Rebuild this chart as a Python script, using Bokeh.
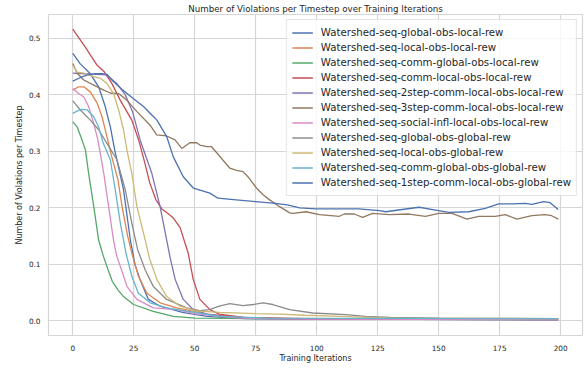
from bokeh.plotting import figure
from bokeh.models import FixedTicker, PrintfTickFormatter, Range1d, Legend, LegendItem
from bokeh.embed import file_html
from bokeh.resources import INLINE

labels = [
    "Watershed-seq-global-obs-local-rew",
    "Watershed-seq-local-obs-local-rew",
    "Watershed-seq-comm-global-obs-local-rew",
    "Watershed-seq-comm-local-obs-local-rew",
    "Watershed-seq-2step-comm-local-obs-local-rew",
    "Watershed-seq-3step-comm-local-obs-local-rew",
    "Watershed-seq-social-infl-local-obs-local-rew",
    "Watershed-seq-global-obs-global-rew",
    "Watershed-seq-local-obs-global-rew",
    "Watershed-seq-comm-global-obs-global-rew",
    "Watershed-seq-1step-comm-local-obs-global-rew",
]
colors = ["#4C72B0", "#DD8452", "#55A868", "#C44E52", "#8172B3", "#937860",
          "#DA8BC3", "#8C8C8C", "#CCB974", "#64B5CD", "#4C72B0"]

x_global_local = [0, 3, 7, 10.6, 13.3, 15.4, 17.2, 20.8, 23.6, 25.5, 27.6, 31, 35.8, 45, 55, 70, 100, 199]
y_global_local = [0.473, 0.455, 0.438, 0.414, 0.379, 0.343, 0.302, 0.232, 0.143, 0.1, 0.073, 0.038, 0.026, 0.015, 0.008, 0.004, 0.003, 0.002]

x_local_local = [0, 2.4, 4.5, 7.2, 10, 12, 14, 16, 18.5, 20.3, 22.5, 24.5, 26.9, 30.4, 35.8, 42.6, 55, 70, 100, 199]
y_local_local = [0.408, 0.414, 0.414, 0.405, 0.385, 0.361, 0.326, 0.29, 0.25, 0.2, 0.15, 0.115, 0.079, 0.049, 0.032, 0.023, 0.012, 0.006, 0.004, 0.003]

x_comm_global_local = [0, 1.8, 3.8, 5.2, 6.5, 8.6, 10.6, 12.5, 14.5, 16.2, 18.5, 20.8, 24.9, 33, 41.2, 50, 80, 130, 199]
y_comm_global_local = [0.352, 0.343, 0.32, 0.302, 0.261, 0.202, 0.143, 0.115, 0.09, 0.07, 0.055, 0.043, 0.029, 0.017, 0.008, 0.005, 0.004, 0.003, 0.002]

x_comm_local_local = [0, 5, 10, 13, 16, 19.5, 24.2, 27, 29.5, 31.5, 34, 36.5, 39, 41, 44, 47.3, 49.4, 52.1, 56.2, 60, 70, 90, 120, 199]
y_comm_local_local = [0.516, 0.485, 0.452, 0.44, 0.42, 0.39, 0.355, 0.32, 0.28, 0.245, 0.215, 0.198, 0.19, 0.183, 0.165, 0.12, 0.073, 0.038, 0.02, 0.012, 0.006, 0.004, 0.003, 0.003]

x_2step = [0, 5, 10, 14, 18, 21.5, 24.5, 27.6, 32.4, 35.8, 38.5, 40, 42, 45.3, 49.4, 55, 65, 80, 100, 199]
y_2step = [0.438, 0.437, 0.436, 0.435, 0.42, 0.4, 0.37, 0.32, 0.261, 0.202, 0.143, 0.11, 0.073, 0.038, 0.02, 0.012, 0.006, 0.004, 0.003, 0.002]

x_3step = [0, 1.8, 4.5, 8.6, 12.7, 15.4, 18.8, 22.2, 26.3, 31.7, 34.4, 38.5, 41.9, 44.7, 48, 50.8, 52.1, 54.9, 56.9,
           64.4, 67.1, 69.8, 71.8, 75.3, 78, 80.7, 84.8, 88.9, 90.2, 95.6, 101.1, 109.3, 111.3, 115.4, 118.8, 122.9,
           129.7, 137.8, 144.6, 150, 155.5, 161.6, 166.4, 173.2, 177.3, 182, 188.2, 193.6, 196.3, 199]
y_3step = [0.455, 0.438, 0.426, 0.417, 0.408, 0.403, 0.402, 0.39, 0.37, 0.346, 0.329, 0.327, 0.32, 0.305, 0.315, 0.315, 0.311, 0.308, 0.308,
           0.27, 0.266, 0.264, 0.255, 0.235, 0.223, 0.214, 0.202, 0.191, 0.19, 0.193, 0.188, 0.185, 0.189, 0.189, 0.183, 0.19,
           0.188, 0.189, 0.185, 0.19, 0.19, 0.18, 0.185, 0.185, 0.188, 0.18, 0.186, 0.188, 0.186, 0.18]

x_social = [0, 2.4, 4.5, 6.5, 8.6, 10.3, 12.7, 14.7, 16.7, 18, 20, 22.2, 26.3, 33, 42.6, 50, 60, 70, 80, 100, 199]
y_social = [0.411, 0.402, 0.396, 0.379, 0.349, 0.32, 0.261, 0.202, 0.143, 0.115, 0.09, 0.061, 0.038, 0.023, 0.02, 0.013, 0.008, 0.005, 0.004, 0.003, 0.002]

x_global_global = [0, 3.1, 7.2, 10.6, 14, 18.1, 21.5, 24.2, 26.6, 29.7, 33, 38.5, 46.7, 52, 56, 60, 64.4, 69.8, 74, 78, 82,
                   88.9, 98.4, 112, 120, 130, 150, 199]
y_global_global = [0.389, 0.373, 0.355, 0.338, 0.314, 0.285, 0.232, 0.173, 0.126, 0.09, 0.061, 0.038, 0.023, 0.018, 0.02, 0.026, 0.0305, 0.027, 0.029, 0.032, 0.029,
                   0.02, 0.014, 0.011, 0.008, 0.006, 0.005, 0.004]

x_local_global = [0, 1.8, 4.5, 8.6, 11.3, 14, 16.7, 18.8, 20.8, 22.2, 24.2, 26.3, 29.7, 31.5, 34.5, 38.5, 44, 50, 60, 75, 85, 95, 110, 130, 199]
y_local_global = [0.452, 0.44, 0.438, 0.432, 0.429, 0.42, 0.402, 0.373, 0.338, 0.302, 0.261, 0.202, 0.143, 0.11, 0.073, 0.043, 0.026, 0.018, 0.015, 0.013, 0.012, 0.01, 0.008, 0.005, 0.004]

x_comm_global_global = [0, 3.1, 5.9, 8.6, 10.6, 12.5, 15.4, 17.4, 19.5, 21.8, 24.2, 26.9, 31.7, 38.5, 50, 60, 80, 199]
y_comm_global_global = [0.367, 0.374, 0.373, 0.361, 0.343, 0.314, 0.285, 0.232, 0.173, 0.12, 0.079, 0.049, 0.032, 0.023, 0.015, 0.008, 0.005, 0.004]

x_1step = [0, 3, 6, 9, 12, 14, 16, 20, 24.9, 29, 32, 34.5, 38.5, 41.2, 45.3, 49.4, 56.2, 59.5, 67, 75, 83, 88, 93, 99.7,
           112, 117.4, 125.6, 128.3, 135, 142, 148.7, 154.2, 162.3, 169.1, 174.6, 180, 185.5, 188.2, 193, 195.7, 198.4, 199]
y_1step = [0.424, 0.43, 0.435, 0.437, 0.437, 0.436, 0.426, 0.41, 0.393, 0.379, 0.366, 0.355, 0.326, 0.29, 0.255, 0.235, 0.226, 0.217, 0.214, 0.211, 0.208, 0.205, 0.2, 0.198,
           0.198, 0.198, 0.195, 0.193, 0.197, 0.201, 0.196, 0.192, 0.193, 0.199, 0.207, 0.207, 0.208, 0.206, 0.211, 0.209, 0.199, 0.197]

series_x = [x_global_local, x_local_local, x_comm_global_local, x_comm_local_local, x_2step, x_3step,
            x_social, x_global_global, x_local_global, x_comm_global_global, x_1step]
series_y = [y_global_local, y_local_local, y_comm_global_local, y_comm_local_local, y_2step, y_3step,
            y_social, y_global_global, y_local_global, y_comm_global_global, y_1step]

x_ticks = [0, 25, 50, 75, 100, 125, 150, 175, 200]
y_ticks = [0.0, 0.1, 0.2, 0.3, 0.4, 0.5]

FONT = "DejaVu Sans"
TXT = "#262626"
GRID = "#d6d6d6"

p = figure(width=587, height=369, output_backend="svg", toolbar_location=None,
           x_range=Range1d(-9.95, 208.95), y_range=Range1d(-0.0258, 0.5418),
           title="Number of Violations per Timestep over Training Iterations",
           min_border_left=48, min_border_right=5, min_border_top=14, min_border_bottom=34)
p.background_fill_color = "white"
p.border_fill_color = "white"
p.outline_line_color = GRID
p.outline_line_width = 1.2

p.title.text_font = FONT
p.title.text_font_size = "8.7px"
p.title.text_font_style = "normal"
p.title.text_color = TXT
p.title.align = "center"
p.title.standoff = 1

items = []
for xs, ys, lab, col in zip(series_x, series_y, labels, colors):
    r = p.line(xs, ys, line_color=col, line_width=1.3)
    items.append(LegendItem(label=lab, renderers=[r]))

legend = Legend(items=items, location="top_right")
legend.label_text_font = FONT
legend.label_text_font_size = "10.2px"
legend.label_text_color = TXT
legend.glyph_width = 21
legend.glyph_height = 15
legend.label_height = 15
legend.spacing = 0
legend.label_standoff = 8
legend.padding = 5
legend.margin = 5
legend.border_line_color = "#cccccc"
legend.border_line_width = 1
legend.background_fill_color = "white"
legend.background_fill_alpha = 0.8
p.add_layout(legend)

p.xaxis.ticker = FixedTicker(ticks=x_ticks)
p.yaxis.ticker = FixedTicker(ticks=y_ticks)
p.yaxis.formatter = PrintfTickFormatter(format="%.1f")
p.xaxis.axis_label = "Training Iterations"
p.yaxis.axis_label = "Number of Violations per Timestep"
for ax in (p.xaxis, p.yaxis):
    ax.axis_line_color = None
    ax.major_tick_line_color = None
    ax.minor_tick_line_color = None
    ax.major_tick_out = 0
    ax.major_tick_in = 0
    ax.minor_tick_out = 0
    ax.minor_tick_in = 0
    ax.major_label_text_font = FONT
    ax.major_label_text_font_size = "7.3px"
    ax.major_label_text_color = TXT
    ax.axis_label_text_font = FONT
    ax.axis_label_text_font_size = "8px"
    ax.axis_label_text_font_style = "normal"
    ax.axis_label_text_color = TXT
p.xaxis.major_label_standoff = 9
p.yaxis.major_label_standoff = 8
p.xaxis.axis_label_standoff = 0
p.yaxis.axis_label_standoff = 2

p.xgrid.grid_line_color = GRID
p.ygrid.grid_line_color = GRID
p.xgrid.grid_line_width = 1.2
p.ygrid.grid_line_width = 1.2

open("out.html", "w").write(file_html(p, INLINE))
